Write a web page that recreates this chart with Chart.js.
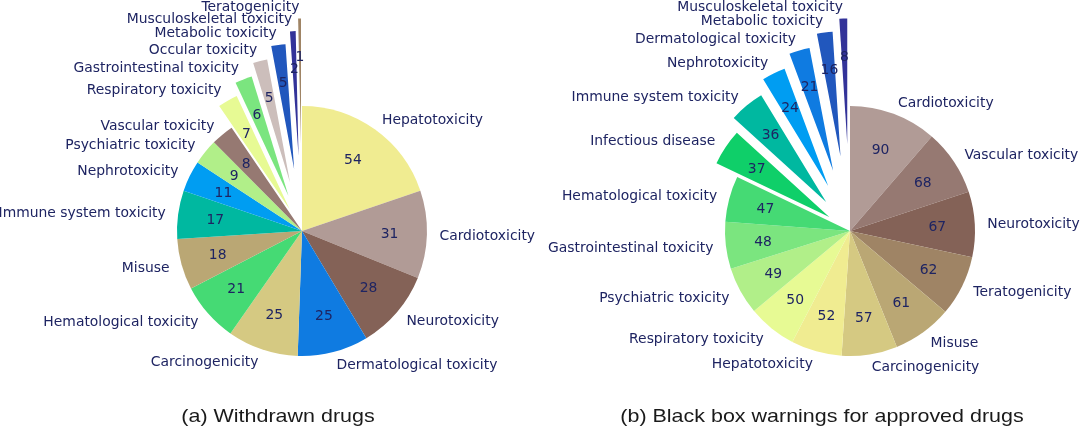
<!DOCTYPE html>
<html>
<head>
<meta charset="utf-8">
<script src="https://cdn.jsdelivr.net/npm/chart.js@4.4.0/dist/chart.umd.min.js"></script>
<style>
html,body{margin:0;padding:0;background:#ffffff;}
#wrap{position:relative;width:1080px;height:431px;overflow:hidden;background:#fff;}
canvas{position:absolute;top:0;}
.cap{position:absolute;font-family:"Liberation Sans",Arial,sans-serif;font-size:19px;color:#1a1a1a;white-space:nowrap;line-height:1;transform-origin:50% 50%;}
</style>
</head>
<body>
<div id="wrap">
  <canvas id="c1" width="540" height="431" style="left:0px"></canvas>
  <canvas id="c2" width="540" height="431" style="left:540px"></canvas>
  <div class="cap" id="capA" style="left:278px;top:406px;transform:translateX(-50%) scaleX(1.13);">(a) Withdrawn drugs</div>
  <div class="cap" id="capB" style="left:822px;top:406px;transform:translateX(-50%) scaleX(1.13);">(b) Black box warnings for approved drugs</div>
</div>
<script>
// ---------- data ----------
const withdrawnCategories = [
  "Hepatotoxicity", "Cardiotoxicity", "Neurotoxicity", "Dermatological toxicity",
  "Carcinogenicity", "Hematological toxicity", "Misuse", "Immune system toxicity",
  "Nephrotoxicity", "Psychiatric toxicity", "Vascular toxicity", "Respiratory toxicity",
  "Gastrointestinal toxicity", "Occular toxicity", "Metabolic toxicity",
  "Musculoskeletal toxicity", "Teratogenicity"
];
const withdrawnValues = [54, 31, 28, 25, 25, 21, 18, 17, 11, 9, 8, 7, 6, 5, 5, 2, 1];

const bbwCategories = [
  "Cardiotoxicity", "Vascular toxicity", "Neurotoxicity", "Teratogenicity", "Misuse",
  "Carcinogenicity", "Hepatotoxicity", "Respiratory toxicity", "Psychiatric toxicity",
  "Gastrointestinal toxicity", "Hematological toxicity", "Infectious disease",
  "Immune system toxicity", "Nephrotoxicity", "Dermatological toxicity",
  "Metabolic toxicity", "Musculoskeletal toxicity"
];
const bbwValues = [90, 68, 67, 62, 61, 57, 52, 50, 49, 48, 47, 37, 36, 24, 21, 16, 8];

// ---------- styles ----------
const withdrawnExplode = [0,0,0,0,0,0,0,0,0,0,0, 0.2,0.3,0.4,0.5,0.6,0.7];
const bbwExplode       = [0,0,0,0,0,0,0,0,0,0,0, 0.2,0.3,0.4,0.5,0.6,0.7];

const categoryColors = {
  "Musculoskeletal toxicity": "#333399",
  "Metabolic toxicity": "#2157BD",
  "Dermatological toxicity": "#0F7BE1",
  "Nephrotoxicity": "#009DF2",
  "Immune system toxicity": "#00B8A0",
  "Infectious disease": "#0FCF69",
  "Hematological toxicity": "#45DA74",
  "Gastrointestinal toxicity": "#7BE57F",
  "Psychiatric toxicity": "#B1EF89",
  "Respiratory toxicity": "#E7FA94",
  "Hepatotoxicity": "#F0EC91",
  "Carcinogenicity": "#D5C982",
  "Misuse": "#BAA774",
  "Teratogenicity": "#9F8465",
  "Neurotoxicity": "#846257",
  "Vascular toxicity": "#967972",
  "Cardiotoxicity": "#B19B96",
  "Occular toxicity": "#CCBEBB"
};

const TEXT_COLOR = "#1e2462";
const LABEL_FONT = '13.9px "DejaVu Sans"';

// ---------- plugin: exploded wedges + labels (matplotlib-like) ----------
const pieLabelPlugin = {
  id: 'pieLabels',
  beforeDatasetDraw(chart, args, opts) {
    const ctx = chart.ctx;
    const explode = opts.explode || [];
    args.meta.data.forEach((arc, i) => {
      const mid = (arc.startAngle + arc.endAngle) / 2;
      const d = (explode[i] || 0) * arc.outerRadius;
      ctx.save();
      ctx.translate(Math.cos(mid) * d, Math.sin(mid) * d);
      arc.draw(ctx);
      ctx.restore();
    });
    return false;
  },
  afterDatasetsDraw(chart, args, opts) {
    const ctx = chart.ctx;
    const meta = chart.getDatasetMeta(0);
    const labels = chart.data.labels;
    const values = chart.data.datasets[0].data;
    const explode = opts.explode || [];
    ctx.save();
    ctx.font = opts.font;
    ctx.fillStyle = opts.color;
    ctx.textBaseline = 'middle';
    meta.data.forEach((arc, i) => {
      const p = arc.getProps(['x', 'y', 'startAngle', 'endAngle', 'outerRadius'], true);
      const mid = (p.startAngle + p.endAngle) / 2;
      const c = Math.cos(mid), s = Math.sin(mid);
      const r = p.outerRadius;
      const d = (explode[i] || 0) * r;
      const cx = p.x + c * d, cy = p.y + s * d;
      ctx.textAlign = c > 0 ? 'left' : 'right';
      ctx.fillText(labels[i], cx + c * r * 1.1, cy + s * r * 1.1 + 1);
      ctx.textAlign = 'center';
      ctx.fillText(String(values[i]), cx + c * r * 0.7, cy + s * r * 0.7 + 1);
    });
    ctx.restore();
  }
};

function makePie(canvasId, cats, vals, explode, padLeft) {
  return new Chart(document.getElementById(canvasId), {
    type: 'pie',
    data: {
      labels: cats,
      datasets: [{
        data: vals,
        backgroundColor: cats.map(c => categoryColors[c]),
        borderWidth: 0
      }]
    },
    options: {
      responsive: false,
      animation: false,
      devicePixelRatio: 1,
      radius: 125,
      layout: { padding: { left: padLeft, top: 31, right: 0, bottom: 0 } },
      plugins: {
        legend: { display: false },
        tooltip: { enabled: false },
        pieLabels: { explode: explode, font: LABEL_FONT, color: TEXT_COLOR }
      }
    },
    plugins: [pieLabelPlugin]
  });
}

makePie('c1', withdrawnCategories, withdrawnValues, withdrawnExplode, 64);
makePie('c2', bbwCategories, bbwValues, bbwExplode, 80);
</script>
</body>
</html>
